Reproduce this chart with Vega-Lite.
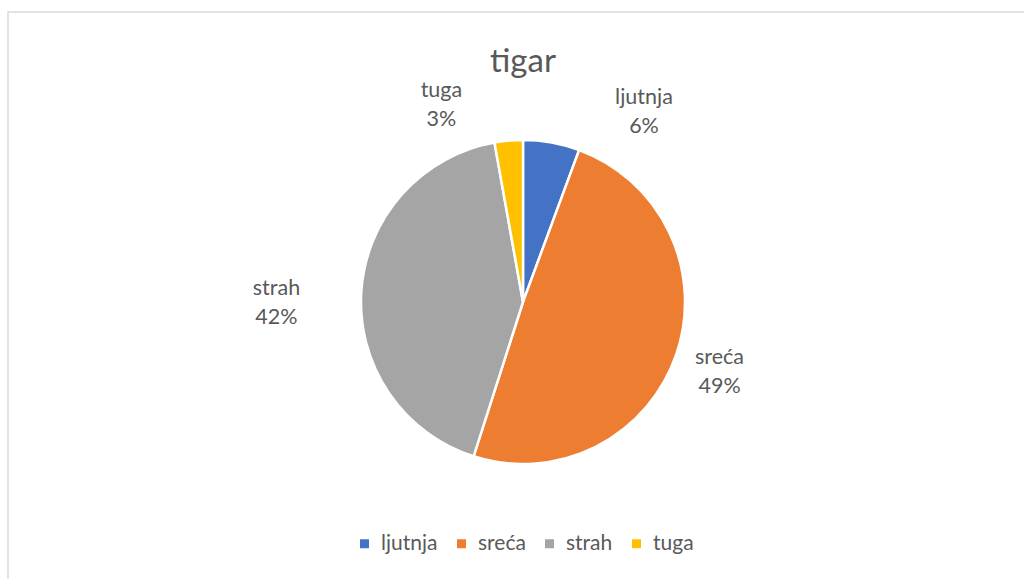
{
  "$schema": "https://vega.github.io/schema/vega-lite/v6.json",
  "width": 1024,
  "height": 579,
  "autosize": {"type": "fit", "contains": "padding"},
  "padding": {"left": 8, "top": 12, "right": -10, "bottom": -10},
  "background": "white",
  "view": {"stroke": "#d9d9d9", "strokeWidth": 1.5, "fill": "white"},
  "config": {
    "font": "Lato"
  },
  "title": {
    "text": "tigar",
    "fontSize": 33,
    "font": "Lato",
    "fontWeight": "normal",
    "color": "#595959",
    "anchor": "middle",
    "offset": -67,
    "dx": 2
  },
  "data": {
    "values": [
      {"emocija": "ljutnja", "broj": 4},
      {"emocija": "sreća", "broj": 35},
      {"emocija": "strah", "broj": 30},
      {"emocija": "tuga", "broj": 2}
    ]
  },
  "transform": [
    {"joinaggregate": [{"op": "sum", "field": "broj", "as": "ukupno"}]},
    {"calculate": "[datum.emocija, round(datum.broj / datum.ukupno * 100) + '%']", "as": "oznaka"}
  ],
  "encoding": {
    "theta": {"field": "broj", "type": "quantitative", "stack": true}
  },
  "layer": [
    {
      "mark": {"type": "arc", "radius": 162, "stroke": "white", "strokeWidth": 2.5, "xOffset": 2, "yOffset": 1.5},
      "encoding": {
        "color": {
          "field": "emocija",
          "type": "nominal",
          "scale": {"domain": ["ljutnja", "sreća", "strah", "tuga"], "range": ["#4472C4", "#ED7D31", "#A5A5A5", "#FFC000"]},
          "legend": {
            "title": null,
            "orient": "none",
            "legendX": 346,
            "legendY": 521,
            "direction": "horizontal",
            "symbolType": "square",
            "symbolSize": 81,
            "symbolStrokeWidth": 0,
            "labelFontSize": 21,
            "labelColor": "#595959",
            "labelFont": "Lato",
            "labelOffset": 6,
            "columnPadding": 13
          }
        }
      }
    },
    {
      "mark": {"type": "text", "radius": 210, "xOffset": 86, "yOffset": 4.5, "fontSize": 21.5, "color": "#595959", "lineHeight": 29, "baseline": "middle", "align": "center"},
      "encoding": {"text": {"condition": {"test": "datum.emocija === 'ljutnja'", "field": "oznaka"}, "value": ""}}
    },
    {
      "mark": {"type": "text", "radius": 210, "xOffset": 0, "yOffset": -11, "fontSize": 21.5, "color": "#595959", "lineHeight": 29, "baseline": "middle", "align": "center"},
      "encoding": {"text": {"condition": {"test": "datum.emocija === 'sreća'", "field": "oznaka"}, "value": ""}}
    },
    {
      "mark": {"type": "text", "radius": 210, "xOffset": -35, "yOffset": 2.5, "fontSize": 21.5, "color": "#595959", "lineHeight": 29, "baseline": "middle", "align": "center"},
      "encoding": {"text": {"condition": {"test": "datum.emocija === 'strah'", "field": "oznaka"}, "value": ""}}
    },
    {
      "mark": {"type": "text", "radius": 210, "xOffset": -61, "yOffset": -0.5, "fontSize": 21.5, "color": "#595959", "lineHeight": 29, "baseline": "middle", "align": "center"},
      "encoding": {"text": {"condition": {"test": "datum.emocija === 'tuga'", "field": "oznaka"}, "value": ""}}
    }
  ]
}
